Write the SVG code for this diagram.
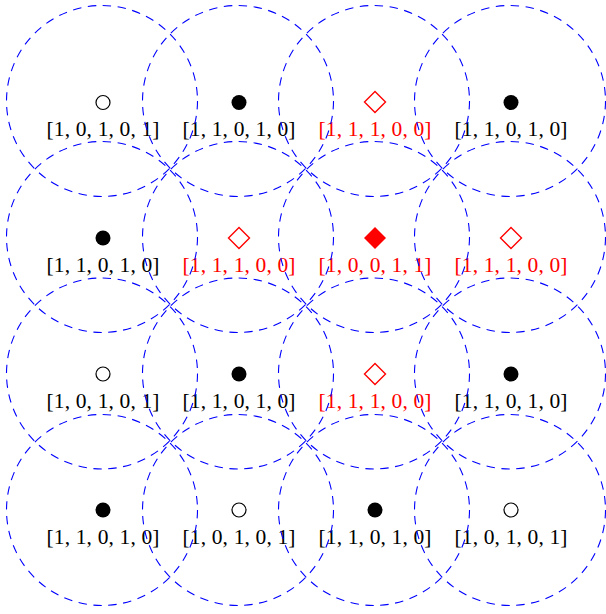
<svg xmlns="http://www.w3.org/2000/svg" width="606" height="614" viewBox="0 0 606 614">
<defs>
<style>
.ring{fill:none;stroke:#0000ff;stroke-width:1.1;stroke-dasharray:8.5 6.5}
.lbl{font-family:"Liberation Serif","Times New Roman",serif;font-size:21.5px;text-anchor:middle}
.blk{fill:#000}
.red{fill:#ff0000}
.oc{fill:#fff;stroke:#000;stroke-width:1.2}
.fc{fill:#000}
.od{fill:#fff;stroke:#ff0000;stroke-width:1.4}
.fd{fill:#ff0000}
</style>
<circle id="mOC" r="7" class="oc"/>
<circle id="mFC" r="7.5" class="fc"/>
<polygon id="mOD" points="0,-10.5 10.5,0 0,10.5 -10.5,0" class="od"/>
<polygon id="mFD" points="0,-11 11,0 0,11 -11,0" class="fd"/>
</defs>
<rect width="606" height="614" fill="#fff"/>
<g id="nodes">
<g id="n00"><use href="#mOC" x="103" y="102.5"/><text class="lbl blk" x="103" y="136" textLength="113" lengthAdjust="spacing">[1, 0, 1, 0, 1]</text></g>
<g id="n01"><use href="#mFC" x="239" y="102.5"/><text class="lbl blk" x="239" y="136" textLength="113" lengthAdjust="spacing">[1, 1, 0, 1, 0]</text></g>
<g id="n02"><use href="#mOD" x="375" y="102"/><text class="lbl red" x="375" y="136" textLength="113" lengthAdjust="spacing">[1, 1, 1, 0, 0]</text></g>
<g id="n03"><use href="#mFC" x="511" y="102.5"/><text class="lbl blk" x="511" y="136" textLength="113" lengthAdjust="spacing">[1, 1, 0, 1, 0]</text></g>

<g id="n10"><use href="#mFC" x="103" y="238"/><text class="lbl blk" x="103" y="272" textLength="113" lengthAdjust="spacing">[1, 1, 0, 1, 0]</text></g>
<g id="n11"><use href="#mOD" x="239" y="238"/><text class="lbl red" x="239" y="272" textLength="113" lengthAdjust="spacing">[1, 1, 1, 0, 0]</text></g>
<g id="n12"><use href="#mFD" x="375" y="238"/><text class="lbl red" x="375" y="272" textLength="113" lengthAdjust="spacing">[1, 0, 0, 1, 1]</text></g>
<g id="n13"><use href="#mOD" x="511" y="238"/><text class="lbl red" x="511" y="272" textLength="113" lengthAdjust="spacing">[1, 1, 1, 0, 0]</text></g>

<g id="n20"><use href="#mOC" x="103" y="374"/><text class="lbl blk" x="103" y="408" textLength="113" lengthAdjust="spacing">[1, 0, 1, 0, 1]</text></g>
<g id="n21"><use href="#mFC" x="239" y="374"/><text class="lbl blk" x="239" y="408" textLength="113" lengthAdjust="spacing">[1, 1, 0, 1, 0]</text></g>
<g id="n22"><use href="#mOD" x="375" y="374"/><text class="lbl red" x="375" y="408" textLength="113" lengthAdjust="spacing">[1, 1, 1, 0, 0]</text></g>
<g id="n23"><use href="#mFC" x="511" y="374"/><text class="lbl blk" x="511" y="408" textLength="113" lengthAdjust="spacing">[1, 1, 0, 1, 0]</text></g>

<g id="n30"><use href="#mFC" x="103" y="510"/><text class="lbl blk" x="103" y="544" textLength="113" lengthAdjust="spacing">[1, 1, 0, 1, 0]</text></g>
<g id="n31"><use href="#mOC" x="239" y="510"/><text class="lbl blk" x="239" y="544" textLength="113" lengthAdjust="spacing">[1, 0, 1, 0, 1]</text></g>
<g id="n32"><use href="#mFC" x="375" y="510"/><text class="lbl blk" x="375" y="544" textLength="113" lengthAdjust="spacing">[1, 1, 0, 1, 0]</text></g>
<g id="n33"><use href="#mOC" x="511" y="510"/><text class="lbl blk" x="511" y="544" textLength="113" lengthAdjust="spacing">[1, 0, 1, 0, 1]</text></g>
</g>
<g id="rings">
<circle class="ring" cx="102" cy="101" r="95.5"/>
<circle class="ring" cx="238" cy="101" r="95.5"/>
<circle class="ring" cx="374" cy="101" r="95.5"/>
<circle class="ring" cx="510" cy="101" r="95.5"/>
<circle class="ring" cx="102" cy="237" r="95.5"/>
<circle class="ring" cx="238" cy="237" r="95.5"/>
<circle class="ring" cx="374" cy="237" r="95.5"/>
<circle class="ring" cx="510" cy="237" r="95.5"/>
<circle class="ring" cx="102" cy="373.5" r="95.5"/>
<circle class="ring" cx="238" cy="373.5" r="95.5"/>
<circle class="ring" cx="374" cy="373.5" r="95.5"/>
<circle class="ring" cx="510" cy="373.5" r="95.5"/>
<circle class="ring" cx="102" cy="510" r="95.5"/>
<circle class="ring" cx="238" cy="510" r="95.5"/>
<circle class="ring" cx="374" cy="510" r="95.5"/>
<circle class="ring" cx="510" cy="510" r="95.5"/>
</g>
</svg>
